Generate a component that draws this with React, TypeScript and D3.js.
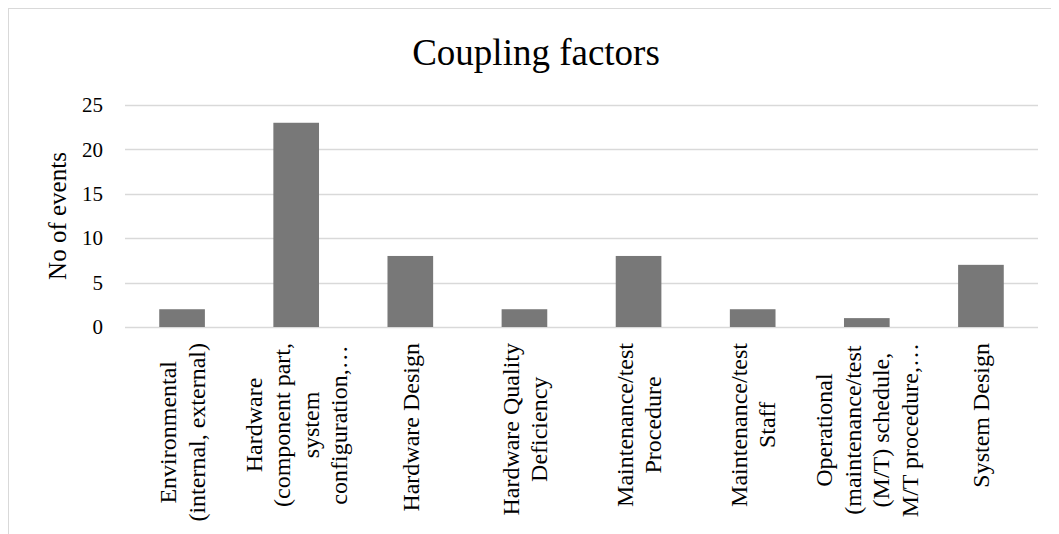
import React, { useEffect, useRef } from "react";
import * as d3 from "d3";

const categories: string[][] = [
  ["Environmental", "(internal, external)"],
  ["Hardware", "(component part,", "system", "configuration,…"],
  ["Hardware Design"],
  ["Hardware Quality", "Deficiency"],
  ["Maintenance/test", "Procedure"],
  ["Maintenance/test", "Staff"],
  ["Operational", "(maintenance/test", "(M/T) schedule,", "M/T procedure,…"],
  ["System Design"],
];
const events: number[] = [2, 23, 8, 2, 8, 2, 1, 7];
const yTicks: number[] = [0, 5, 10, 15, 20, 25];
const title = "Coupling factors";
const yTitle = "No of events";

const W = 1051;
const H = 526;
const FONT = "'Liberation Serif', 'Times New Roman', serif";

export default function App() {
  const ref = useRef<SVGSVGElement | null>(null);

  useEffect(() => {
    const svg = d3.select(ref.current);
    svg.selectAll("*").remove();

    // coordinates are relative to the svg (page offset 8px)
    const left = 117;
    const right = 1030;
    const top = 97;
    const bottom = 319;

    const x = d3
      .scaleBand<number>()
      .domain(d3.range(categories.length))
      .range([left, right])
      .paddingInner(0.6)
      .paddingOuter(0.3);
    const y = d3.scaleLinear().domain([0, 25]).range([bottom, top]);

    // chart frame (right and bottom edges fall outside the view)
    svg
      .append("rect")
      .attr("x", 0.5)
      .attr("y", 0.5)
      .attr("width", 1060)
      .attr("height", 560)
      .attr("fill", "#fff")
      .attr("stroke", "#d9d9d9")
      .attr("stroke-width", 1);

    svg
      .append("text")
      .attr("x", 528)
      .attr("y", 57)
      .attr("text-anchor", "middle")
      .attr("font-family", FONT)
      .attr("font-size", 37)
      .attr("fill", "#000")
      .text(title);

    // gridlines
    svg
      .append("g")
      .selectAll("line")
      .data(yTicks)
      .join("line")
      .attr("x1", left)
      .attr("x2", right)
      .attr("y1", (d) => Math.round(y(d)) + 0.5)
      .attr("y2", (d) => Math.round(y(d)) + 0.5)
      .attr("stroke", "#d9d9d9")
      .attr("stroke-width", 1.5);

    // tick labels
    svg
      .append("g")
      .selectAll("text")
      .data(yTicks)
      .join("text")
      .attr("x", 95)
      .attr("y", (d) => y(d))
      .attr("dy", "0.34em")
      .attr("text-anchor", "end")
      .attr("font-family", FONT)
      .attr("font-size", 21)
      .attr("fill", "#000")
      .text((d) => String(d));

    svg
      .append("text")
      .attr("transform", `translate(49, ${(top + bottom) / 2}) rotate(-90)`)
      .attr("dy", "0.35em")
      .attr("text-anchor", "middle")
      .attr("font-family", FONT)
      .attr("font-size", 25)
      .attr("fill", "#000")
      .text(yTitle);

    // bars
    svg
      .append("g")
      .selectAll("rect")
      .data(events)
      .join("rect")
      .attr("x", (_, i) => x(i)!)
      .attr("y", (d) => y(d))
      .attr("width", x.bandwidth())
      .attr("height", (d) => y(0) - y(d))
      .attr("fill", "#787878");

    // category labels, rotated, lines centred on the longest one
    const lineH = 28.5;
    const step = x.step();
    categories.forEach((lines, i) => {
      const cx = left + step * (i + 0.5);
      const g = svg
        .append("g")
        .attr("transform", `translate(${cx}, 335) rotate(-90)`);
      const texts = lines.map((ln, j) =>
        g
          .append("text")
          .attr("y", (j - (lines.length - 1) / 2) * lineH)
          .attr("dy", "0.35em")
          .attr("text-anchor", "middle")
          .attr("font-family", FONT)
          .attr("font-size", 24)
          .attr("fill", "#000")
          .text(ln)
      );
      const maxLen = d3.max(texts, (t) =>
        (t.node() as SVGTextElement).getComputedTextLength()
      ) as number;
      texts.forEach((t) => t.attr("x", -maxLen / 2));
    });
  }, []);

  return (
    <svg
      ref={ref}
      width={W}
      height={H}
      style={{ display: "block", overflow: "hidden" }}
    />
  );
}
